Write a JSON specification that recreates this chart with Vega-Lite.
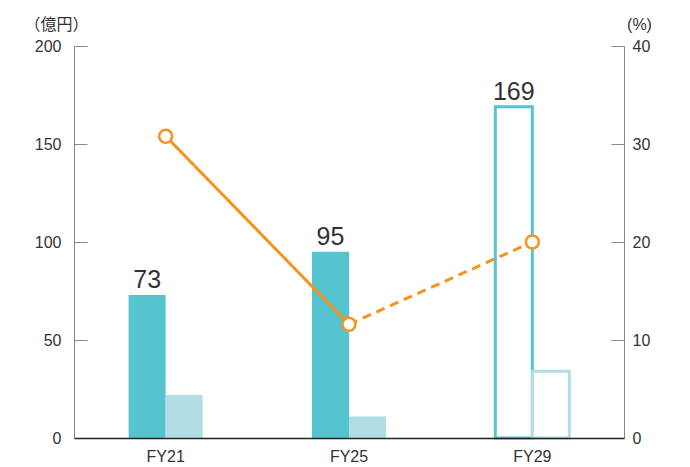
{
  "$schema": "https://vega.github.io/schema/vega-lite/v6.json",
  "width": 550,
  "height": 392,
  "autosize": {"type": "none"},
  "padding": {"left": 74, "top": 46, "right": 66, "bottom": 29},
  "config": {
    "view": {"stroke": null},
    "font": "Liberation Sans, Noto Sans CJK JP",
    "axis": {"labelFont": "Liberation Sans", "titleFont": "Noto Sans CJK JP", "labelColor": "#333", "titleColor": "#333", "grid": false}
  },
  "datasets": {
    "bars": [
      {"fy": "FY21", "series": "main", "status": "actual", "value": 73},
      {"fy": "FY21", "series": "sub", "status": "actual", "value": 22},
      {"fy": "FY25", "series": "main", "status": "actual", "value": 95},
      {"fy": "FY25", "series": "sub", "status": "actual", "value": 11},
      {"fy": "FY29", "series": "main", "status": "plan", "value": 169},
      {"fy": "FY29", "series": "sub", "status": "plan", "value": 34}
    ],
    "ratio": [
      {"fy": "FY21", "seg": "actual", "pct": 30.8},
      {"fy": "FY25", "seg": "actual", "pct": 11.6},
      {"fy": "FY25", "seg": "plan", "pct": 11.6},
      {"fy": "FY29", "seg": "plan", "pct": 20}
    ],
    "points": [
      {"fy": "FY21", "pct": 30.8},
      {"fy": "FY25", "pct": 11.6},
      {"fy": "FY29", "pct": 20}
    ]
  },
  "encoding": {
    "x": {
      "field": "fy",
      "type": "nominal",
      "scale": {"paddingInner": 0.596, "paddingOuter": 0.298},
      "axis": {"title": null, "labelAngle": 0, "ticks": false, "domainColor": "#222", "domainWidth": 1.5, "labelFontSize": 16, "labelPadding": 10, "labelColor": "#333", "zindex": 2}
    }
  },
  "layer": [
    {
      "data": {"name": "bars"},
      "layer": [
        {
          "transform": [{"filter": "datum.status === 'actual'"}],
          "mark": {"type": "bar"},
          "encoding": {
            "xOffset": {"field": "series", "type": "nominal", "scale": {"domain": ["main", "sub"], "paddingInner": 0, "paddingOuter": 0}},
            "y": {
              "field": "value", "type": "quantitative",
              "scale": {"domain": [0, 200]},
              "axis": {"values": [0, 50, 100, 150, 200], "title": "（億円）", "titleAngle": 0, "titleAlign": "center", "titleBaseline": "middle", "titleX": -18, "titleY": -22, "titleFontSize": 16, "titleFontWeight": "normal", "domainColor": "#888", "tickColor": "#888", "tickSize": -13, "labelFontSize": 16, "labelPadding": 26, "orient": "left", "zindex": 1}
            },
            "fill": {"field": "series", "type": "nominal", "scale": {"domain": ["main", "sub"], "range": ["#56C4CE", "#B0DEE4"]}, "legend": null}
          }
        },
        {
          "transform": [{"filter": "datum.status === 'plan'"}],
          "mark": {"type": "bar", "fill": "white", "strokeWidth": 3},
          "encoding": {
            "xOffset": {"field": "series", "type": "nominal", "scale": {"domain": ["main", "sub"], "paddingInner": 0, "paddingOuter": 0}},
            "y": {"field": "value", "type": "quantitative"},
            "stroke": {"field": "series", "type": "nominal", "scale": {"domain": ["main", "sub"], "range": ["#56C4CE", "#B0DEE4"]}, "legend": null}
          }
        },
        {
          "transform": [{"filter": "datum.series === 'main'"}],
          "mark": {"type": "text", "baseline": "alphabetic", "dy": -7, "fontSize": 25, "color": "#333", "font": "Liberation Sans"},
          "encoding": {
            "xOffset": {"field": "series", "type": "nominal", "scale": {"domain": ["main", "sub"], "paddingInner": 0, "paddingOuter": 0}},
            "y": {"field": "value", "type": "quantitative"},
            "text": {"field": "value", "type": "quantitative"}
          }
        }
      ]
    },
    {
      "layer": [
        {
          "data": {"name": "ratio"},
          "mark": {"type": "line", "color": "#F6921E", "strokeWidth": 3},
          "encoding": {
            "y": {
              "field": "pct", "type": "quantitative",
              "scale": {"domain": [0, 40]},
              "axis": {"orient": "right", "values": [0, 10, 20, 30, 40], "title": "(%)", "titleFont": "Liberation Sans", "titleAngle": 0, "titleAlign": "center", "titleBaseline": "middle", "titleX": 15, "titleY": -22, "titleFontSize": 16, "titleFontWeight": "normal", "domainColor": "#888", "tickColor": "#888", "tickSize": -13, "labelFontSize": 16, "labelPadding": 21, "zindex": 1}
            },
            "detail": {"field": "seg"},
            "strokeDash": {"field": "seg", "type": "nominal", "scale": {"domain": ["actual", "plan"], "range": [[1, 0], [9, 6]]}, "legend": null}
          }
        },
        {
          "data": {"name": "points"},
          "mark": {"type": "point", "filled": true, "fill": "white", "stroke": "#F6921E", "strokeWidth": 2.5, "size": 170, "opacity": 1},
          "encoding": {
            "y": {"field": "pct", "type": "quantitative"}
          }
        }
      ]
    }
  ],
  "resolve": {"scale": {"y": "independent"}}
}
